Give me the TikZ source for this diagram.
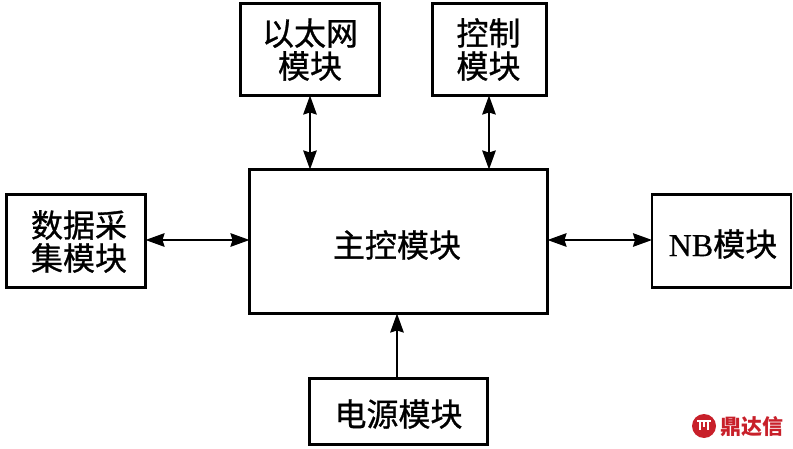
\documentclass[tikz,border=0pt]{standalone}
\usepackage{fontspec}
\setmainfont[FakeBold=0.5]{Liberation Serif}
\newfontfamily\cjk[FakeBold=0.9]{Noto Sans CJK SC}
\newfontfamily\cjklogo{Noto Sans CJK SC}
\usetikzlibrary{arrows.meta}
\definecolor{logored}{HTML}{C8202A}
\tikzset{
  x=1pt,y=-1pt,
  blockbox/.style={draw=black,line width=2.7pt,minimum width=#1,inner sep=0pt,anchor=center,outer sep=0pt},
  label/.style={font=\fontsize{32}{33}\selectfont\cjk,align=center,inner sep=0pt,text=black},
  blocktip/.tip={Stealth[length=19pt,width=13.5pt,inset=2pt]},
  link/.style={line width=2pt,black,{blocktip}-{blocktip}},
  linkone/.style={line width=2pt,black,-{blocktip}},
  logoline/.style={draw=white,line width=1.3pt},
}
\begin{document}
\begin{tikzpicture}
\useasboundingbox (0,0) rectangle (793,449);
\node[blockbox=139pt,minimum height=92pt] (eth) at (310,49.5) {};
\node[blockbox=114pt,minimum height=92pt] (ctl) at (489.5,49.5) {};
\node[blockbox=139pt,minimum height=93pt] (dat) at (76,241) {};
\node[blockbox=298pt,minimum height=144pt] (mai) at (398.5,241.5) {};
\node[blockbox=139pt,minimum height=93pt] (nbm) at (721.5,241) {};
\node[blockbox=178pt,minimum height=66pt] (pow) at (398.5,411.5) {};
\coordinate (powtop) at (397,378);
\coordinate (hy) at (0,240);
\coordinate (vc) at (489,0);
\node[label] (ethl) at (310,49.5) {以太网\\模块};
\node[label] (ctll) at (488.5,49.5) {控制\\模块};
\node[label] (datl) at (79,241.5) {数据采\\集模块};
\node[label] (mail) at (397,245) {主控模块};
\node[label] (nbml) at (723,244) {{\rmfamily NB}\cjk 模块};
\node[label] (powl) at (398.5,414) {电源模块};
\draw[link] (eth.south) -- (eth.south |- mai.north);
\draw[link] (vc |- ctl.south) -- (vc |- mai.north);
\draw[link] (dat.east |- hy) -- (mai.west |- hy);
\draw[link] (mai.east |- hy) -- (nbm.west |- hy);
\draw[linkone] (powtop) -- (powtop |- mai.south);
\node[circle,fill=logored,minimum size=24pt,inner sep=0pt] (logo) at (704,426) {};
\draw[logoline] (697,421) -- (711,421) (700,421) -- (700,430) (708,421) -- (708,430) (704,421) -- (704,427);
\node[inner sep=0pt,text=logored,font=\fontsize{21}{21}\selectfont\cjklogo\bfseries] (logotext) at (751.5,426.5) {鼎达信};
\end{tikzpicture}
\end{document}
